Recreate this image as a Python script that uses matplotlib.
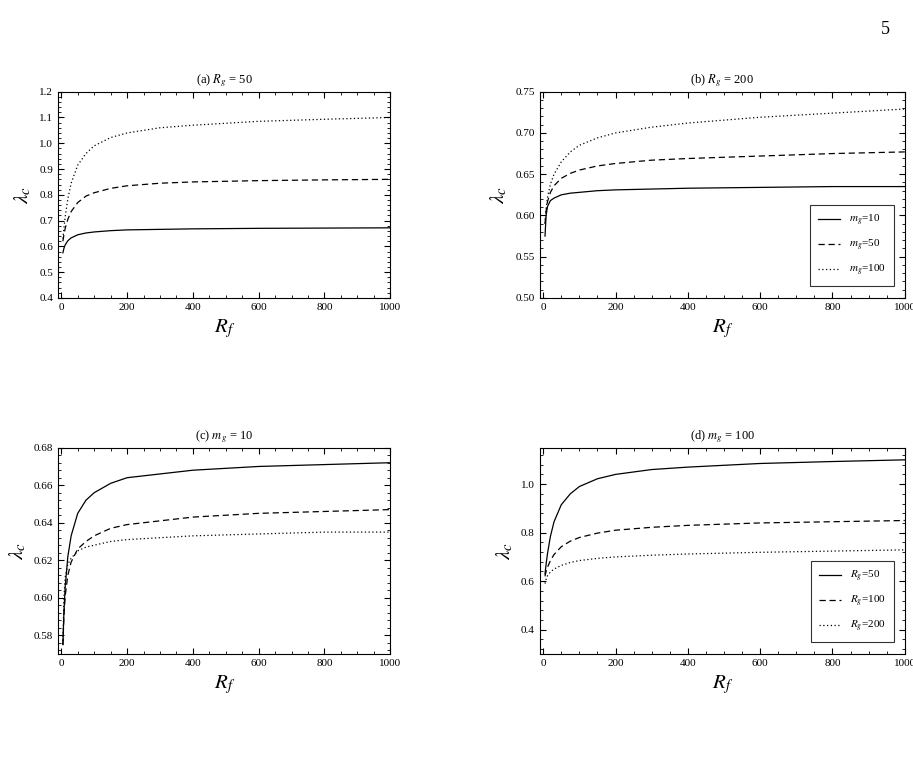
import matplotlib
matplotlib.use("Agg")
import matplotlib.pyplot as plt
from matplotlib.ticker import AutoMinorLocator

plt.rcParams["font.family"] = ["Liberation Serif", "DejaVu Serif"]
plt.rcParams["mathtext.fontset"] = "stix"

rf = [5, 8, 12, 20, 30, 50, 75, 100, 150, 200, 300, 400, 600, 800, 1000]

# Rg = 50
a_mg10 = [0.575, 0.592, 0.606, 0.622, 0.633, 0.645, 0.652, 0.656, 0.661, 0.664, 0.666, 0.668, 0.670, 0.671, 0.672]
a_mg50 = [0.620, 0.645, 0.670, 0.705, 0.735, 0.770, 0.795, 0.808, 0.825, 0.835, 0.845, 0.850, 0.855, 0.858, 0.860]
a_mg100 = [0.630, 0.670, 0.715, 0.785, 0.845, 0.915, 0.960, 0.990, 1.022, 1.040, 1.060, 1.070, 1.085, 1.093, 1.100]
# Rg = 200
b_mg10 = [0.575, 0.600, 0.611, 0.618, 0.621, 0.625, 0.627, 0.628, 0.630, 0.631, 0.632, 0.633, 0.634, 0.635, 0.635]
b_mg50 = [0.590, 0.605, 0.617, 0.628, 0.636, 0.645, 0.651, 0.655, 0.660, 0.663, 0.667, 0.669, 0.672, 0.675, 0.677]
b_mg100 = [0.590, 0.608, 0.622, 0.638, 0.650, 0.665, 0.677, 0.685, 0.694, 0.700, 0.707, 0.712, 0.719, 0.724, 0.729]
# mg = 10, Rg = 100
c_rg100 = [0.575, 0.590, 0.601, 0.612, 0.619, 0.626, 0.630, 0.633, 0.637, 0.639, 0.641, 0.643, 0.645, 0.646, 0.647]
# mg = 100, Rg = 100
d_rg100 = [0.620, 0.640, 0.658, 0.685, 0.710, 0.742, 0.765, 0.780, 0.798, 0.810, 0.822, 0.830, 0.840, 0.845, 0.850]

panels = [
    ("(a) $R_g$ = 50", [a_mg10, a_mg50, a_mg100], None, (0.4, 1.2), [0.4 + 0.1 * i for i in range(9)], "%.1f"),
    ("(b) $R_g$ = 200", [b_mg10, b_mg50, b_mg100], ["$m_g$=10", "$m_g$=50", "$m_g$=100"], (0.5, 0.75), [0.50, 0.55, 0.60, 0.65, 0.70, 0.75], "%.2f"),
    ("(c) $m_g$ = 10", [a_mg10, c_rg100, b_mg10], None, (0.57, 0.68), [0.58, 0.60, 0.62, 0.64, 0.66, 0.68], "%.2f"),
    ("(d) $m_g$ = 100", [a_mg100, d_rg100, b_mg100], ["$R_g$=50", "$R_g$=100", "$R_g$=200"], (0.3, 1.15), [0.4, 0.6, 0.8, 1.0], "%.1f"),
]
rects = [
    [0.0635, 0.61, 0.364, 0.27],
    [0.591, 0.61, 0.40, 0.27],
    [0.0635, 0.144, 0.364, 0.27],
    [0.591, 0.144, 0.40, 0.27],
]
styles = ["-", (0, (5, 3)), (0, (1, 2))]

fig = plt.figure(figsize=(9.13, 7.64), dpi=100)
for rect, (title, series, labels, ylim, yt, fmt) in zip(rects, panels):
    ax = fig.add_axes(rect)
    for i, ys in enumerate(series):
        ax.plot(rf, ys, color="black", lw=0.9, ls=styles[i],
                label=labels[i] if labels else None)
    ax.set_xlim(-10, 1000)
    ax.set_ylim(*ylim)
    ax.set_xticks([0, 200, 400, 600, 800, 1000])
    ax.set_yticks(yt)
    ax.set_yticklabels([fmt % v for v in yt])
    ax.xaxis.set_minor_locator(AutoMinorLocator(4))
    ax.yaxis.set_minor_locator(AutoMinorLocator(5))
    ax.tick_params(which="both", direction="in", top=True, right=True, labelsize=8)
    ax.tick_params(which="major", length=4)
    ax.tick_params(which="minor", length=2)
    ax.set_title(title, fontsize=9)
    ax.set_xlabel("$R_f$", fontsize=15)
    ax.set_ylabel(r"$\lambda_c$", fontsize=15)
    if labels:
        leg = ax.legend(loc="lower right", fontsize=8, frameon=True, fancybox=False,
                        edgecolor="black", handlelength=2.0, labelspacing=0.9,
                        borderpad=0.7, bbox_to_anchor=(0.985, 0.03))
        leg.get_frame().set_linewidth(0.8)

fig.text(0.975, 0.955, "5", fontsize=13, ha="right")
fig.savefig("out.png", dpi=100)
